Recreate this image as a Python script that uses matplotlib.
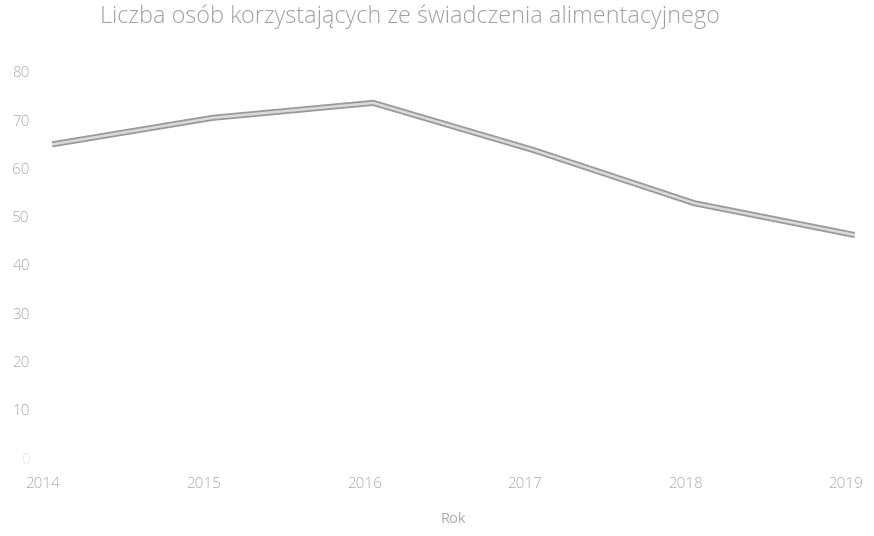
import matplotlib.pyplot as plt
import matplotlib.ticker as mticker
import matplotlib.transforms as mtransforms

plt.rcParams['font.family'] = ['Open Sans', 'DejaVu Sans']
plt.rcParams['font.weight'] = 300

years = [2014, 2015, 2016, 2017, 2018, 2019]
osoby = [65.0, 70.5, 73.6, 63.8, 52.8, 46.2]
yticks = [0, 10, 20, 30, 40, 50, 60, 70, 80]

txt = '#ababab'

fig = plt.figure(figsize=(8.74, 5.36), dpi=100)
ax = fig.add_axes([52/874, 1-458/536, (855-52)/874, (458-72)/536])

# double stroke: darker edge, lighter core
ax.plot(years, osoby, color='#9a9a9a', lw=4.4, solid_capstyle='butt', zorder=2)
ax.plot(years, osoby, color='#dadada', lw=1.8, solid_capstyle='butt', zorder=3)

ax.set_xlim(2014, 2019)
ax.set_ylim(0, 80)
ax.set_xticks(years)
ax.set_yticks(yticks)
ax.tick_params(axis='both', length=0, colors=txt, labelsize=11)
ax.tick_params(axis='x', pad=14)
ax.tick_params(axis='y', pad=16)
for s in ax.spines.values():
    s.set_visible(False)

# year labels sit a little left of their points
shift = mtransforms.ScaledTranslation(-9/100, 0, fig.dpi_scale_trans)
for lbl in ax.get_xticklabels():
    lbl.set_transform(lbl.get_transform() + shift)
ax.get_yticklabels()[0].set_color('#e6e6e6')

ax.set_xlabel('Rok', color=txt, fontsize=10.5, labelpad=14)
fig.text(410/874, 1-17/536, 'Liczba osób korzystających ze świadczenia alimentacyjnego',
         ha='center', va='center', color='#a0a0a0', fontsize=16.8)

plt.savefig('out.png', dpi=100)
